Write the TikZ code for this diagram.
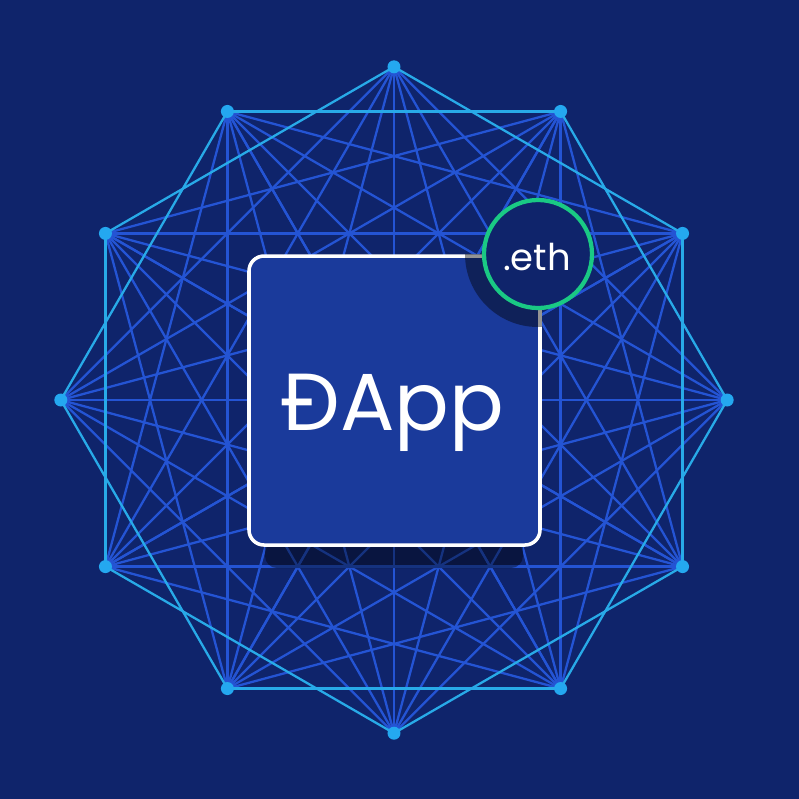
\documentclass[tikz,border=0pt]{standalone}
\usepackage{fontspec}
\usetikzlibrary{calc}
\newfontfamily\dappfont{Poppins}
\definecolor{bgblue}{RGB}{15,36,107}
\definecolor{edgedark}{RGB}{36,84,212}
\definecolor{edgelight}{RGB}{40,170,232}
\definecolor{dotblue}{RGB}{36,168,240}
\definecolor{boxblue}{RGB}{26,58,155}
\definecolor{ensgreen}{RGB}{26,201,132}
\tikzset{
  far/.style={edgedark, line width=0.65pt},
  near/.style={edgelight, line width=0.65pt},
  dot/.style={fill=dotblue}
}
\begin{document}
\begin{tikzpicture}[x=0.01cm,y=-0.01cm]
\useasboundingbox (0,0) rectangle (799,799);
\fill[bgblue] (0,0) rectangle (799,799);

\foreach \i in {0,...,11}
  \coordinate (p\i) at ($(394,400)+({90-30*\i}:3.33cm)$);

% chords
\foreach \i in {0,...,11}
  \foreach \j in {3,...,6} {
    \pgfmathtruncatemacro\k{mod(\i+\j,12)}
    \draw[far] (p\i) -- (p\k);
  }
\foreach \i in {0,...,11} {
  \pgfmathtruncatemacro\k{mod(\i+2,12)}
  \draw[near] (p\i) -- (p\k);
}

\foreach \i in {0,...,11}
  \fill[dot] (p\i) circle (6.5);

% box
\fill[black, opacity=0.4, rounded corners=0.12cm] (265,300) rectangle (523,568);
\draw[white, fill=boxblue, line width=1pt, rounded corners=0.15cm] (249,256) rectangle (540,545);
\node[white, anchor=base, font=\dappfont\fontsize{23}{23}\selectfont] (dapp) at (393,430) {ĐApp};

\begin{scope}
\clip[rounded corners=0.16cm] (247,254) rectangle (542,547);
\fill[black, opacity=0.42] (538,254) circle (73);
\end{scope}

\draw[ensgreen, fill=bgblue, line width=1.2pt] (538,254) circle (54);
\node[white, anchor=base, font=\dappfont\fontsize{10.5}{10.5}\selectfont] (eth) at (537,270) {.eth};

\end{tikzpicture}
\end{document}
